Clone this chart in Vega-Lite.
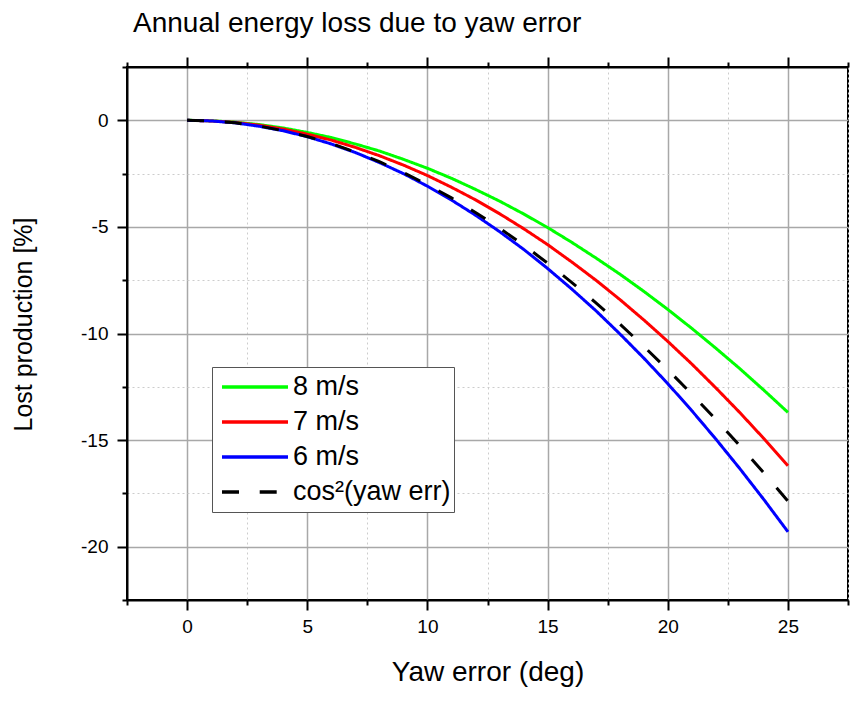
{
  "$schema": "https://vega.github.io/schema/vega-lite/v6.json",
  "autosize": {"type": "none"},
  "width": 721,
  "height": 533,
  "padding": {"left": 127, "top": 67, "right": 6, "bottom": 102},
  "background": "white",
  "config": {
    "view": {"stroke": "black", "strokeWidth": 2},
    "font": "Liberation Sans"
  },
  "title": {
    "text": "Annual energy loss due to yaw error",
    "anchor": "start",
    "frame": "group",
    "fontSize": 28,
    "font": "Liberation Sans",
    "fontWeight": "normal",
    "color": "black",
    "offset": 18,
    "dx": 6
  },
  "data": {
    "values": [
      {"yaw": 0, "loss": 0, "series": "8 m/s"},
      {"yaw": 1, "loss": -0.02, "series": "8 m/s"},
      {"yaw": 2, "loss": -0.09, "series": "8 m/s"},
      {"yaw": 3, "loss": -0.2, "series": "8 m/s"},
      {"yaw": 4, "loss": -0.36, "series": "8 m/s"},
      {"yaw": 5, "loss": -0.57, "series": "8 m/s"},
      {"yaw": 6, "loss": -0.81, "series": "8 m/s"},
      {"yaw": 7, "loss": -1.11, "series": "8 m/s"},
      {"yaw": 8, "loss": -1.44, "series": "8 m/s"},
      {"yaw": 9, "loss": -1.83, "series": "8 m/s"},
      {"yaw": 10, "loss": -2.25, "series": "8 m/s"},
      {"yaw": 11, "loss": -2.72, "series": "8 m/s"},
      {"yaw": 12, "loss": -3.24, "series": "8 m/s"},
      {"yaw": 13, "loss": -3.79, "series": "8 m/s"},
      {"yaw": 14, "loss": -4.39, "series": "8 m/s"},
      {"yaw": 15, "loss": -5.03, "series": "8 m/s"},
      {"yaw": 16, "loss": -5.72, "series": "8 m/s"},
      {"yaw": 17, "loss": -6.45, "series": "8 m/s"},
      {"yaw": 18, "loss": -7.21, "series": "8 m/s"},
      {"yaw": 19, "loss": -8.02, "series": "8 m/s"},
      {"yaw": 20, "loss": -8.87, "series": "8 m/s"},
      {"yaw": 21, "loss": -9.76, "series": "8 m/s"},
      {"yaw": 22, "loss": -10.69, "series": "8 m/s"},
      {"yaw": 23, "loss": -11.65, "series": "8 m/s"},
      {"yaw": 24, "loss": -12.66, "series": "8 m/s"},
      {"yaw": 25, "loss": -13.7, "series": "8 m/s"},
      {"yaw": 0, "loss": 0, "series": "7 m/s"},
      {"yaw": 1, "loss": -0.03, "series": "7 m/s"},
      {"yaw": 2, "loss": -0.1, "series": "7 m/s"},
      {"yaw": 3, "loss": -0.23, "series": "7 m/s"},
      {"yaw": 4, "loss": -0.41, "series": "7 m/s"},
      {"yaw": 5, "loss": -0.65, "series": "7 m/s"},
      {"yaw": 6, "loss": -0.93, "series": "7 m/s"},
      {"yaw": 7, "loss": -1.27, "series": "7 m/s"},
      {"yaw": 8, "loss": -1.66, "series": "7 m/s"},
      {"yaw": 9, "loss": -2.1, "series": "7 m/s"},
      {"yaw": 10, "loss": -2.59, "series": "7 m/s"},
      {"yaw": 11, "loss": -3.14, "series": "7 m/s"},
      {"yaw": 12, "loss": -3.73, "series": "7 m/s"},
      {"yaw": 13, "loss": -4.38, "series": "7 m/s"},
      {"yaw": 14, "loss": -5.08, "series": "7 m/s"},
      {"yaw": 15, "loss": -5.83, "series": "7 m/s"},
      {"yaw": 16, "loss": -6.64, "series": "7 m/s"},
      {"yaw": 17, "loss": -7.49, "series": "7 m/s"},
      {"yaw": 18, "loss": -8.4, "series": "7 m/s"},
      {"yaw": 19, "loss": -9.36, "series": "7 m/s"},
      {"yaw": 20, "loss": -10.37, "series": "7 m/s"},
      {"yaw": 21, "loss": -11.43, "series": "7 m/s"},
      {"yaw": 22, "loss": -12.55, "series": "7 m/s"},
      {"yaw": 23, "loss": -13.71, "series": "7 m/s"},
      {"yaw": 24, "loss": -14.93, "series": "7 m/s"},
      {"yaw": 25, "loss": -16.2, "series": "7 m/s"},
      {"yaw": 0, "loss": 0, "series": "6 m/s"},
      {"yaw": 1, "loss": -0.03, "series": "6 m/s"},
      {"yaw": 2, "loss": -0.12, "series": "6 m/s"},
      {"yaw": 3, "loss": -0.28, "series": "6 m/s"},
      {"yaw": 4, "loss": -0.49, "series": "6 m/s"},
      {"yaw": 5, "loss": -0.77, "series": "6 m/s"},
      {"yaw": 6, "loss": -1.11, "series": "6 m/s"},
      {"yaw": 7, "loss": -1.51, "series": "6 m/s"},
      {"yaw": 8, "loss": -1.98, "series": "6 m/s"},
      {"yaw": 9, "loss": -2.5, "series": "6 m/s"},
      {"yaw": 10, "loss": -3.09, "series": "6 m/s"},
      {"yaw": 11, "loss": -3.74, "series": "6 m/s"},
      {"yaw": 12, "loss": -4.45, "series": "6 m/s"},
      {"yaw": 13, "loss": -5.22, "series": "6 m/s"},
      {"yaw": 14, "loss": -6.05, "series": "6 m/s"},
      {"yaw": 15, "loss": -6.95, "series": "6 m/s"},
      {"yaw": 16, "loss": -7.91, "series": "6 m/s"},
      {"yaw": 17, "loss": -8.92, "series": "6 m/s"},
      {"yaw": 18, "loss": -10.01, "series": "6 m/s"},
      {"yaw": 19, "loss": -11.15, "series": "6 m/s"},
      {"yaw": 20, "loss": -12.35, "series": "6 m/s"},
      {"yaw": 21, "loss": -13.62, "series": "6 m/s"},
      {"yaw": 22, "loss": -14.95, "series": "6 m/s"},
      {"yaw": 23, "loss": -16.34, "series": "6 m/s"},
      {"yaw": 24, "loss": -17.79, "series": "6 m/s"},
      {"yaw": 25, "loss": -19.3, "series": "6 m/s"},
      {"yaw": 0, "loss": 0, "series": "cos²(yaw err)"},
      {"yaw": 1, "loss": -0.03, "series": "cos²(yaw err)"},
      {"yaw": 2, "loss": -0.12, "series": "cos²(yaw err)"},
      {"yaw": 3, "loss": -0.27, "series": "cos²(yaw err)"},
      {"yaw": 4, "loss": -0.49, "series": "cos²(yaw err)"},
      {"yaw": 5, "loss": -0.76, "series": "cos²(yaw err)"},
      {"yaw": 6, "loss": -1.09, "series": "cos²(yaw err)"},
      {"yaw": 7, "loss": -1.49, "series": "cos²(yaw err)"},
      {"yaw": 8, "loss": -1.94, "series": "cos²(yaw err)"},
      {"yaw": 9, "loss": -2.45, "series": "cos²(yaw err)"},
      {"yaw": 10, "loss": -3.02, "series": "cos²(yaw err)"},
      {"yaw": 11, "loss": -3.64, "series": "cos²(yaw err)"},
      {"yaw": 12, "loss": -4.32, "series": "cos²(yaw err)"},
      {"yaw": 13, "loss": -5.06, "series": "cos²(yaw err)"},
      {"yaw": 14, "loss": -5.85, "series": "cos²(yaw err)"},
      {"yaw": 15, "loss": -6.7, "series": "cos²(yaw err)"},
      {"yaw": 16, "loss": -7.6, "series": "cos²(yaw err)"},
      {"yaw": 17, "loss": -8.55, "series": "cos²(yaw err)"},
      {"yaw": 18, "loss": -9.55, "series": "cos²(yaw err)"},
      {"yaw": 19, "loss": -10.6, "series": "cos²(yaw err)"},
      {"yaw": 20, "loss": -11.7, "series": "cos²(yaw err)"},
      {"yaw": 21, "loss": -12.84, "series": "cos²(yaw err)"},
      {"yaw": 22, "loss": -14.03, "series": "cos²(yaw err)"},
      {"yaw": 23, "loss": -15.27, "series": "cos²(yaw err)"},
      {"yaw": 24, "loss": -16.54, "series": "cos²(yaw err)"},
      {"yaw": 25, "loss": -17.86, "series": "cos²(yaw err)"}
    ]
  },
  "resolve": {"axis": {"x": "independent"}},
  "layer": [
    {
      "mark": {"type": "line", "strokeWidth": 3},
      "encoding": {
        "x": {
          "field": "yaw",
          "type": "quantitative",
          "scale": {"domain": [-2.5, 27.5], "nice": false, "zero": false},
          "axis": {
            "orient": "bottom",
            "values": [-2.5, 0, 2.5, 5, 7.5, 10, 12.5, 15, 17.5, 20, 22.5, 25, 27.5],
            "labelExpr": "datum.value % 5 === 0 ? '' + datum.value : ''",
            "labelOverlap": false,
            "labelFlush": false,
            "labelFontSize": 19,
            "labelFont": "Liberation Sans",
            "labelColor": "black",
            "labelPadding": 7,
            "tickSize": {"condition": {"test": "datum.value % 5 === 0", "value": 10}, "value": 5},
            "tickColor": "black",
            "tickWidth": 2,
            "domainColor": "black",
            "domainWidth": 2,
            "grid": true,
            "gridColor": {"condition": {"test": "datum.value % 5 === 0", "value": "#a8a8a8"}, "value": "#cccccc"},
            "gridDash": {"condition": {"test": "datum.value % 5 === 0", "value": []}, "value": [2, 3]},
            "gridWidth": {"condition": {"test": "datum.value % 5 === 0", "value": 1.5}, "value": 1},
            "title": "Yaw error (deg)",
            "titleFontSize": 28,
            "titleFont": "Liberation Sans",
            "titleFontWeight": "normal",
            "titleColor": "black",
            "titlePadding": 22
          }
        },
        "y": {
          "field": "loss",
          "type": "quantitative",
          "scale": {"domain": [-22.5, 2.5], "nice": false, "zero": false},
          "axis": {
            "orient": "left",
            "values": [-22.5, -20, -17.5, -15, -12.5, -10, -7.5, -5, -2.5, 0, 2.5],
            "labelExpr": "datum.value % 5 === 0 ? '' + datum.value : ''",
            "labelOverlap": false,
            "labelFlush": false,
            "labelFontSize": 19,
            "labelFont": "Liberation Sans",
            "labelColor": "black",
            "labelPadding": 9,
            "tickSize": {"condition": {"test": "datum.value % 5 === 0", "value": 10}, "value": 5},
            "tickColor": "black",
            "tickWidth": 2,
            "domainColor": "black",
            "domainWidth": 2,
            "grid": true,
            "gridColor": {"condition": {"test": "datum.value % 5 === 0", "value": "#a8a8a8"}, "value": "#cccccc"},
            "gridDash": {"condition": {"test": "datum.value % 5 === 0", "value": []}, "value": [2, 3]},
            "gridWidth": {"condition": {"test": "datum.value % 5 === 0", "value": 1.5}, "value": 1},
            "title": "Lost production [%]",
            "titleFontSize": 25,
            "titleFont": "Liberation Sans",
            "titleFontWeight": "normal",
            "titleColor": "black",
            "titleAngle": -90,
            "titleX": -104,
            "titleY": 257,
            "titleAlign": "center",
            "titleBaseline": "middle"
          }
        },
        "color": {
          "field": "series",
          "type": "nominal",
          "sort": ["8 m/s", "7 m/s", "6 m/s", "cos²(yaw err)"],
          "scale": {
            "domain": ["8 m/s", "7 m/s", "6 m/s", "cos²(yaw err)"],
            "range": ["#00ff00", "#ff0000", "#0000ff", "#000000"]
          },
          "legend": {
            "orient": "none",
            "legendX": 85,
            "legendY": 300,
            "title": null,
            "strokeColor": "#555555",
            "fillColor": "white",
            "padding": 3,
            "symbolType": "stroke",
            "symbolStrokeWidth": 3.5,
            "symbolSize": 4356,
            "symbolOffset": 5,
            "clipHeight": 34,
            "labelFontSize": 27,
            "labelFont": "Liberation Sans",
            "labelColor": "black",
            "rowPadding": 1,
            "labelOffset": 3
          }
        },
        "strokeDash": {
          "field": "series",
          "type": "nominal",
          "sort": ["8 m/s", "7 m/s", "6 m/s", "cos²(yaw err)"],
          "scale": {
            "domain": ["8 m/s", "7 m/s", "6 m/s", "cos²(yaw err)"],
            "range": [[1, 0], [1, 0], [1, 0], [17, 20.7]]
          },
          "legend": {
            "orient": "none",
            "legendX": 85,
            "legendY": 300,
            "title": null,
            "strokeColor": "#555555",
            "fillColor": "white",
            "padding": 3,
            "symbolType": "stroke",
            "symbolStrokeWidth": 3.5,
            "symbolSize": 4356,
            "symbolOffset": 5,
            "clipHeight": 34,
            "labelFontSize": 27,
            "labelFont": "Liberation Sans",
            "labelColor": "black",
            "rowPadding": 1,
            "labelOffset": 3
          }
        }
      }
    },
    {
      "mark": {"type": "rule", "opacity": 0},
      "encoding": {
        "x": {
          "field": "yaw",
          "type": "quantitative",
          "axis": {
            "orient": "top",
            "values": [-2.5, 0, 2.5, 5, 7.5, 10, 12.5, 15, 17.5, 20, 22.5, 25, 27.5],
            "labels": false,
            "grid": false,
            "tickSize": {"condition": {"test": "datum.value % 5 === 0", "value": 10}, "value": 5},
            "tickColor": "black",
            "tickWidth": 2,
            "domainColor": "black",
            "domainWidth": 2,
            "title": null
          }
        }
      }
    }
  ]
}
